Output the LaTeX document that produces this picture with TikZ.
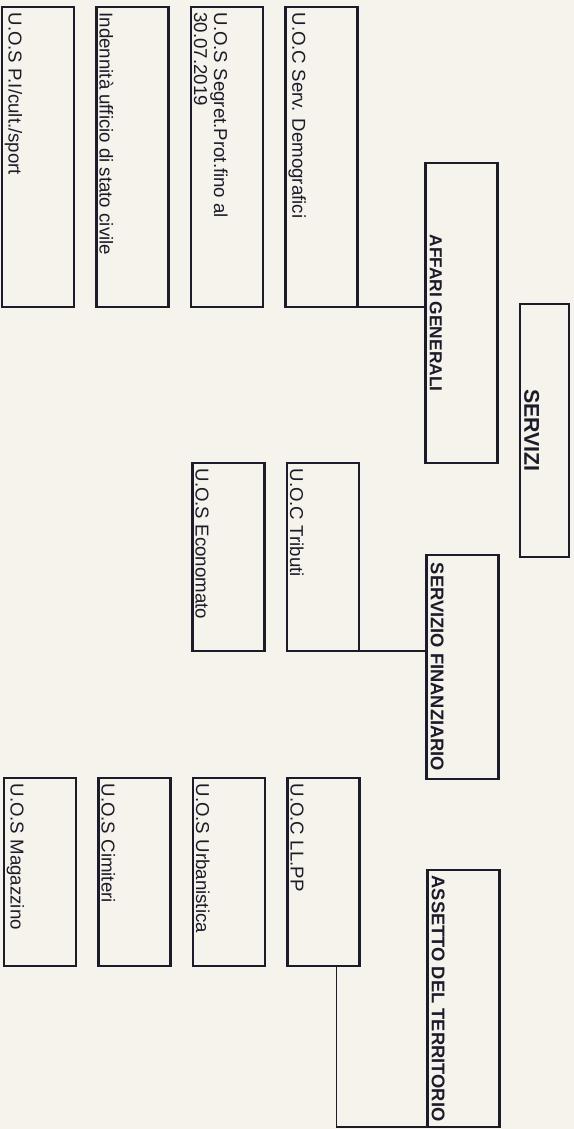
\documentclass[tikz,border=0pt]{standalone}
\usepackage{fontspec}
\setmainfont{Liberation Sans}
\usetikzlibrary{positioning}
\definecolor{carta}{HTML}{F5F3EB}
\definecolor{inchiostro}{HTML}{1C1B29}

\begin{document}
\begin{tikzpicture}[
  x=0.75pt, y=-0.75pt,
  scatola/.style={
    draw=inchiostro, line width=2pt, minimum width=54pt,
    minimum height=141pt, inner sep=0pt, outer sep=0pt
  },
  voce/.style={
    rotate=-90, anchor=south west, align=left, inner sep=1pt,
    text=inchiostro, font=\fontsize{14}{15}\selectfont
  },
  titolo/.style={
    rotate=-90, anchor=south, inner sep=1pt, text=inchiostro,
    font=\fontsize{13.75}{15}\selectfont\bfseries
  },
  linea/.style={draw=inchiostro, line width=0.9pt}
]
  \fill[carta] (0,0) rectangle (574,1129);
  \useasboundingbox (0,0) rectangle (574,1129);

  \node[scatola, minimum width=36.75pt, minimum height=189.75pt] (serv) at (544.5,430.5) {};
  \node[titolo, font=\fontsize{16}{18}\selectfont\bfseries] (serv-t) at ([xshift=2pt]serv.west) {SERVIZI};

  \node[scatola, minimum height=225pt] (aff) at (461.5,313) {};
  \node[titolo, font=\fontsize{13}{15}\selectfont\bfseries] (aff-t) at ([xshift=2pt]aff.west) {AFFARI GENERALI};
  \node[scatola, minimum height=168pt] (fin) at (462.5,667) {};
  \node[titolo] (fin-t) at ([xshift=2pt]fin.west) {SERVIZIO FINANZIARIO};
  \node[scatola, minimum height=192.75pt] (ass) at (463.5,998.5) {};
  \node[titolo] (ass-t) at ([xshift=2pt]ass.west) {ASSETTO DEL TERRITORIO};

  \node[scatola, minimum height=225pt] (dem) at (321.5,157) {};
  \node[scatola, minimum height=225pt, left=16.9pt of dem] (segr) {};
  \node[scatola, minimum height=225pt, left=16.9pt of segr] (ind) {};
  \node[scatola, minimum height=225pt, left=16.9pt of ind] (sport) {};
  \node[voce] (dem-t) at ([xshift=1pt,yshift=-3pt]dem.north west) {U.O.C Serv. Demografici};
  \node[voce] (segr-t) at ([xshift=1pt,yshift=-3pt]segr.north west) {U.O.S Segret.Prot.fino al\\30.07.2019};
  \node[voce] (ind-t) at ([xshift=1pt,yshift=-3pt]ind.north west) {Indennità ufficio di stato civile};
  \node[voce] (sport-t) at ([xshift=1pt,yshift=-3pt]sport.north west) {U.O.S P.I/cult./sport};

  \node[scatola] (trib) at (323,557) {};
  \node[scatola, left=16.9pt of trib] (econ) {};
  \node[voce] (trib-t) at ([xshift=1pt,yshift=-3pt]trib.north west) {U.O.C Tributi};
  \node[voce] (econ-t) at ([xshift=1pt,yshift=-3pt]econ.north west) {U.O.S Economato};

  \node[scatola] (llpp) at (323.5,872) {};
  \node[scatola, left=16.9pt of llpp] (urb) {};
  \node[scatola, left=16.9pt of urb] (cim) {};
  \node[scatola, left=16.9pt of cim] (mag) {};
  \node[voce] (llpp-t) at ([xshift=1pt,yshift=-3pt]llpp.north west) {U.O.C LL.PP};
  \node[voce] (urb-t) at ([xshift=1pt,yshift=-3pt]urb.north west) {U.O.S Urbanistica};
  \node[voce] (cim-t) at ([xshift=1pt,yshift=-3pt]cim.north west) {U.O.S Cimiteri};
  \node[voce] (mag-t) at ([xshift=1pt,yshift=-3pt]mag.north west) {U.O.S Magazzino};

  \draw[linea] (dem.south east) -- (dem.south east -| aff.west);
  \draw[linea] (trib.south east) -- (trib.south east -| fin.west);
  \draw[linea] ([xshift=10pt]llpp.south) |- (ass.south west);
\end{tikzpicture}
\end{document}
